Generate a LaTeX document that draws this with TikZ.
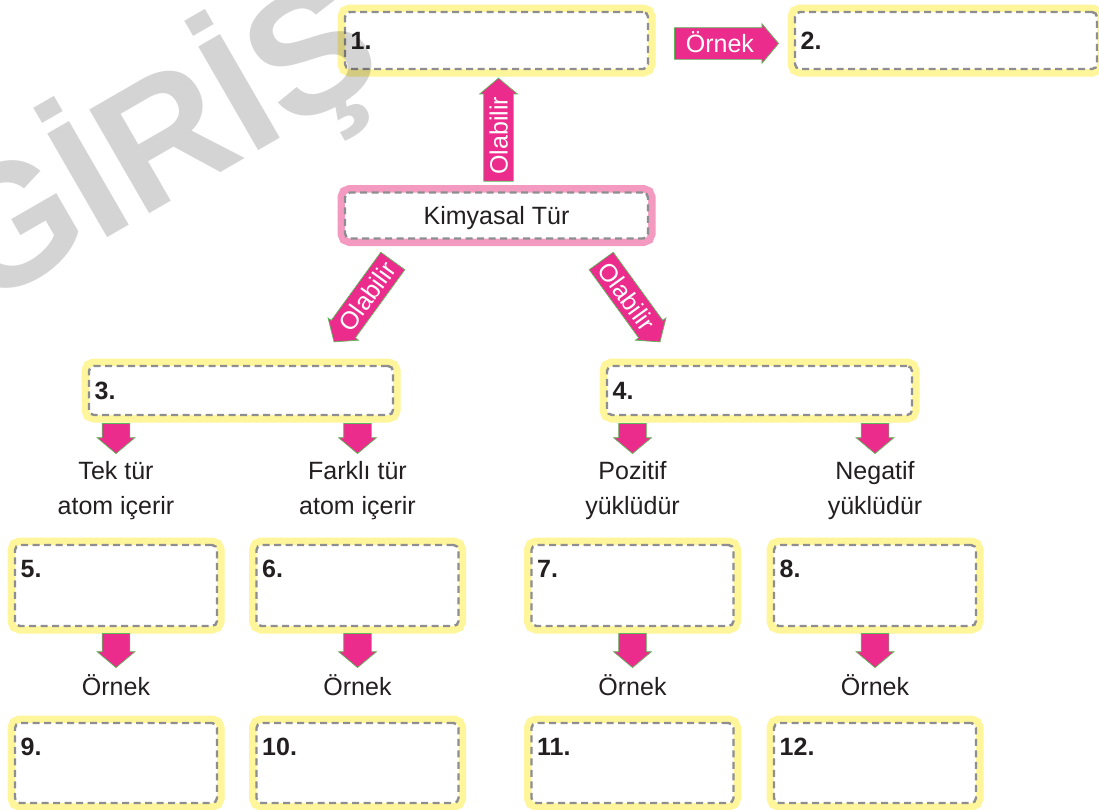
\documentclass[tikz,border=0pt]{standalone}
\usepackage{fontspec}
\setmainfont{Liberation Sans}
\usetikzlibrary{shapes.arrows,calc}
\definecolor{ybg}{HTML}{FFF59A}
\definecolor{pbg}{HTML}{F49AC1}
\definecolor{dgray}{HTML}{8E8E90}
\definecolor{mag}{HTML}{EC2C8D}
\definecolor{agreen}{HTML}{5DB85A}
\definecolor{txt}{HTML}{231F20}
\begin{document}
\begin{tikzpicture}[x=1pt,y=-1pt,
  every node/.style={text=txt},
  frame/.style={rectangle, rounded corners=5pt, draw=dgray, line width=2.4pt,
    dash pattern=on 7pt off 4.5pt, fill=white, inner sep=0pt,
    preaction={draw=#1, solid, line width=15pt}},
  ybox/.style={frame=ybg},
  pbox/.style={frame=pbg},
  num/.style={font=\fontsize{25}{30}\selectfont\bfseries, inner sep=0pt},
  plain/.style={font=\fontsize{25}{35}\selectfont, inner sep=0pt, align=center},
  fat/.style={single arrow, fill=mag, draw=agreen, line width=0.7pt,
    single arrow head indent=0pt, single arrow tip angle=100,
    single arrow head extend=4pt, inner xsep=0pt, inner ysep=5.5pt,
    text height=18pt, text depth=0pt, text=white,
    font=\fontsize{25}{25}\selectfont},
  darrow/.style={single arrow, fill=mag, draw=agreen, line width=0.7pt,
    single arrow head indent=0pt, single arrow tip angle=100,
    single arrow head extend=5pt, inner xsep=0pt, inner ysep=13.5pt,
    rotate=-90, anchor=tail},
]
\useasboundingbox (0,0) rectangle (1099,809);
\fill[white] (0,0) rectangle (1099,809);

% boxes
\node[ybox, minimum width=303pt, minimum height=57pt] (b1) at (496.5,40.5) {};
\node[ybox, minimum width=302pt, minimum height=57pt] (b2) at (946,40.5) {};
\node[pbox, minimum width=303pt, minimum height=46pt, text depth=0pt,
      font=\fontsize{25}{30}\selectfont] (k) at (496.5,215.5) {Kimyasal Tür};
\node[ybox, minimum width=304pt, minimum height=49pt] (b3) at (241,390.5) {};
\node[ybox, minimum width=305pt, minimum height=49pt] (b4) at (759.5,390.5) {};

\foreach \n/\x in {5/116,6/357.5,7/632.5,8/875}{
  \node[ybox, minimum width=202pt, minimum height=81pt] (b\n) at (\x,585.5) {};
}
\foreach \n/\x in {9/116,10/357.5,11/632.5,12/875}{
  \node[ybox, minimum width=202pt, minimum height=80pt] (b\n) at (\x,763) {};
}

% labels
\foreach \n in {1,2,3,4}{
  \node[num, anchor=west] (l\n) at ($(b\n.west)+(6.7,0)$) {\n.};
}
\foreach \n in {5,...,12}{
  \node[num, anchor=base west] (l\n) at ($(b\n.north west)+(6.7,34)$) {\n.};
}

% big labelled arrows
\node[fat, rotate=90, minimum height=103pt, anchor=tail]
  (o1) at ($(k.north)+(2,-9.8)$) {Olabilir};
\node[fat, minimum height=104pt, inner ysep=6.5pt, anchor=tail]
  (o2) at ($(b1.east)+(25,3)$) {Örnek};
\node[fat, rotate=54, shape border rotate=180, minimum height=100pt, anchor=tail]
  (o3) at ($(k.south)+(-103.5,21)$) {Olabilir};
\node[fat, rotate=-54, minimum height=100pt, anchor=tail]
  (o4) at ($(k.south)+(104.5,21)$) {Olabilir};

% small arrows under boxes 3 and 4
\node[darrow, minimum height=30pt] (d5) at ($(b3.south -| b5.north)+(0,7)$) {};
\node[darrow, minimum height=30pt] (d6) at ($(b3.south -| b6.north)+(0,7)$) {};
\node[darrow, minimum height=30pt] (d7) at ($(b4.south -| b7.north)+(0,7)$) {};
\node[darrow, minimum height=30pt] (d8) at ($(b4.south -| b8.north)+(0,7)$) {};
\node[plain, anchor=north] (t5) at ($(d5.tip)+(0,7)$) {Tek tür\\atom içerir};
\node[plain, anchor=north] (t6) at ($(d6.tip)+(0,7)$) {Farklı tür\\atom içerir};
\node[plain, anchor=north] (t7) at ($(d7.tip)+(0,7)$) {Pozitif\\yüklüdür};
\node[plain, anchor=north] (t8) at ($(d8.tip)+(0,7)$) {Negatif\\yüklüdür};

% arrows between rows
\foreach \n in {5,6,7,8}{
  \node[darrow, minimum height=34pt] (e\n) at ($(b\n.south)+(0,6)$) {};
  \node[plain, anchor=base] (x\n) at ($(e\n.tip)+(0,27)$) {Örnek};
}

% watermark
\node[rotate=30, anchor=base west, inner sep=0pt, font=\fontsize{174}{174}\selectfont\bfseries,
      text=black, text opacity=0.17] (wm) at (-20,311) {GİRİŞ};
\end{tikzpicture}
\end{document}
